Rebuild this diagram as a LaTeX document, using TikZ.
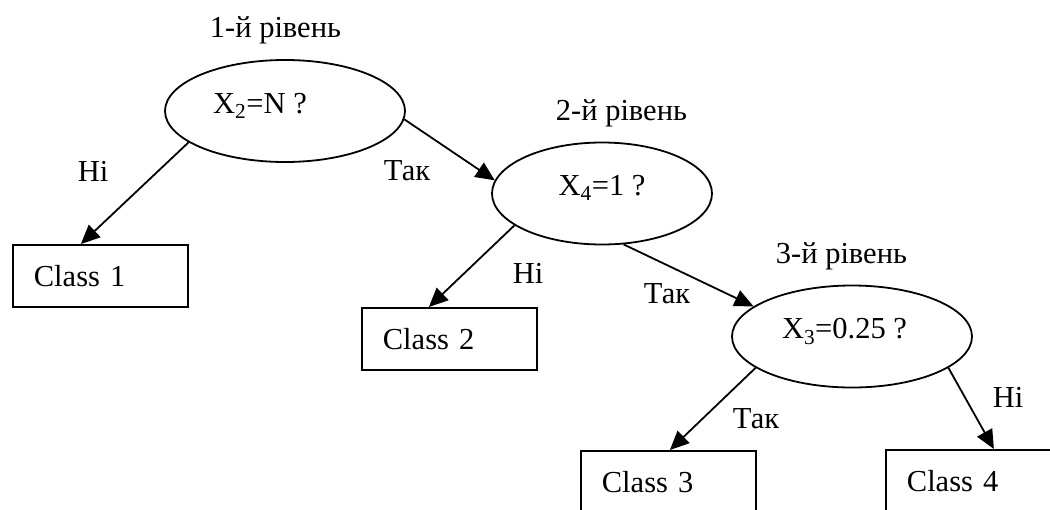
\documentclass[tikz,border=0pt]{standalone}
\usepackage{fontspec}
\setmainfont{Liberation Serif}
\usetikzlibrary{arrows.meta,shapes.geometric}
\begin{document}
\begin{tikzpicture}[x=1pt,y=-1pt,
  font=\fontsize{30.5}{36}\selectfont,
  line width=1.8pt,
  decision/.style={draw,ellipse,minimum height=102pt,inner sep=0pt,text height=4pt,text depth=0pt},
  leaf/.style={draw,rectangle,anchor=north west,minimum height=62pt,text width=133pt,inner xsep=21pt,inner ysep=0pt,align=left},
  edge/.style={-{Triangle[length=19pt,width=17pt]}},
  lbl/.style={anchor=base west,inner sep=0pt}]
\useasboundingbox (0,0) rectangle (1050,509);
\clip (0,0) rectangle (1050,509);

% decision nodes
\node[decision,minimum width=240pt] (e1) at (285,111) {X\textsubscript{2}=N ?\hspace*{50pt}};
\node[decision,minimum width=220pt] (e2) at (602,193.5) {X\textsubscript{4}=1 ?};
\node[decision,minimum width=240pt] (e3) at (852,336.5) {X\textsubscript{3}=0.25 ?\hspace*{15pt}};

% leaves
\node[leaf] (c1) at (12,244) {Class 1};
\node[leaf] (c2) at (361,307) {Class 2};
\node[leaf] (c3) at (580,450) {Class 3};
\node[leaf] (c4) at (885,449) {Class 4};

% level labels
\node[lbl] (l1) at (209,37) {1-й рівень};
\node[lbl] (l2) at (555,120) {2-й рівень};
\node[lbl] (l3) at (775,263) {3-й рівень};

% edges
\draw[edge] (e1.198) -- ([xshift=-19.5pt]c1.north);
\draw[edge] (e1.356) -- (e2.173);
\draw[edge] (e2.200) -- ([xshift=-20.5pt]c2.north);
\draw[edge] (e2.293) -- (e3.163);
\draw[edge] (e3.198) -- ([xshift=1.5pt]c3.north);
\draw[edge] (e3.342) -- ([xshift=20.5pt]c4.north);

% edge labels
\node[lbl] (n1) at (77,181) {Ні};
\node[lbl] (t1) at (383,180) {Так};
\node[lbl] (n2) at (512,283) {Ні};
\node[lbl] (t2) at (643,303) {Так};
\node[lbl] (t3) at (732,428) {Так};
\node[lbl] (n3) at (992,407) {Ні};
\end{tikzpicture}
\end{document}
